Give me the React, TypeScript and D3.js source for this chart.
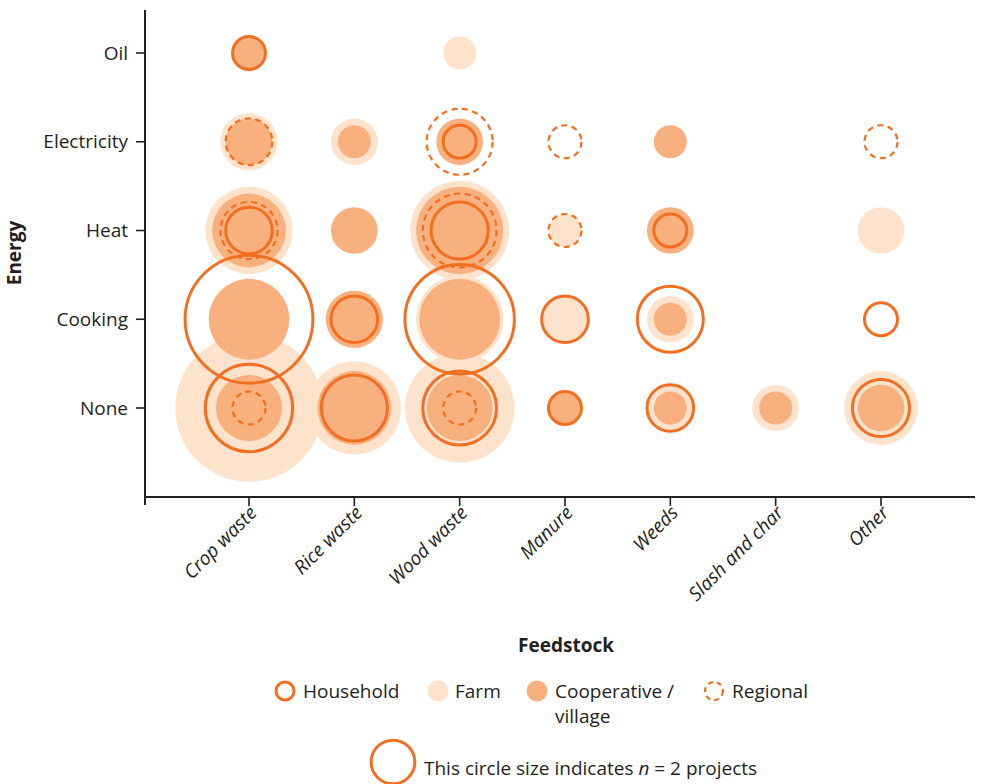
import React from 'react';
import * as d3 from 'd3';

// categories
const feedstocks = ['Crop waste', 'Rice waste', 'Wood waste', 'Manure', 'Weeds', 'Slash and char', 'Other'];
const energies = ['Oil', 'Electricity', 'Heat', 'Cooking', 'None'];

// [feedstock, energy, number of projects]
type Cell = [string, string, number];

const household: Cell[] = [
  ['Crop waste', 'Oil', 1],
  ['Crop waste', 'Heat', 2],
  ['Crop waste', 'Cooking', 15],
  ['Crop waste', 'None', 7],
  ['Rice waste', 'Cooking', 2],
  ['Rice waste', 'None', 4],
  ['Wood waste', 'Electricity', 1],
  ['Wood waste', 'Heat', 3],
  ['Wood waste', 'Cooking', 11],
  ['Wood waste', 'None', 5],
  ['Manure', 'Cooking', 2],
  ['Manure', 'None', 1],
  ['Weeds', 'Heat', 1],
  ['Weeds', 'Cooking', 4],
  ['Weeds', 'None', 2],
  ['Other', 'Cooking', 1],
  ['Other', 'None', 3],
];

const farm: Cell[] = [
  ['Crop waste', 'Electricity', 3],
  ['Crop waste', 'Heat', 7],
  ['Crop waste', 'None', 20],
  ['Rice waste', 'Electricity', 2],
  ['Rice waste', 'None', 8],
  ['Wood waste', 'Oil', 1],
  ['Wood waste', 'Heat', 9],
  ['Wood waste', 'Cooking', 7],
  ['Wood waste', 'None', 11],
  ['Manure', 'Heat', 1],
  ['Manure', 'Cooking', 2],
  ['Weeds', 'Cooking', 2],
  ['Weeds', 'None', 2],
  ['Slash and char', 'None', 2],
  ['Other', 'Heat', 2],
  ['Other', 'None', 5],
];

const cooperative: Cell[] = [
  ['Crop waste', 'Oil', 1],
  ['Crop waste', 'Electricity', 2],
  ['Crop waste', 'Heat', 5],
  ['Crop waste', 'Cooking', 6],
  ['Crop waste', 'None', 4],
  ['Rice waste', 'Electricity', 1],
  ['Rice waste', 'Heat', 2],
  ['Rice waste', 'Cooking', 3],
  ['Rice waste', 'None', 5],
  ['Wood waste', 'Electricity', 2],
  ['Wood waste', 'Heat', 7],
  ['Wood waste', 'Cooking', 6],
  ['Wood waste', 'None', 4],
  ['Manure', 'None', 1],
  ['Weeds', 'Electricity', 1],
  ['Weeds', 'Heat', 2],
  ['Weeds', 'Cooking', 1],
  ['Weeds', 'None', 1],
  ['Slash and char', 'None', 1],
  ['Other', 'None', 2],
];

const regional: Cell[] = [
  ['Crop waste', 'Electricity', 2],
  ['Crop waste', 'Heat', 3],
  ['Crop waste', 'None', 1],
  ['Wood waste', 'Electricity', 4],
  ['Wood waste', 'Heat', 5],
  ['Wood waste', 'None', 1],
  ['Manure', 'Electricity', 1],
  ['Manure', 'Heat', 1],
  ['Other', 'Electricity', 1],
];

const legendN = 2;

const ORANGE = '#f26f21';
const FARM = '#fde2cc';
const COOP = '#f8b07f';
const INK = '#231f20';
const FONT = '"Open Sans", "Noto Sans", sans-serif';
const FS = 19;

const App = () => {
  const width = 983;
  const height = 784;

  const x = d3.scalePoint<string>().domain(feedstocks).range([249, 881]);
  const y = d3.scalePoint<string>().domain(energies).range([53, 408]);
  const r = d3.scaleSqrt().domain([0, 1]).range([0, 16.5]);

  const axisX0 = 145;
  const axisX1 = 975;
  const axisY0 = 497;
  const axisY1 = 10;

  const byRadius = (a: Cell, b: Cell) => b[2] - a[2];

  return (
    <svg
      width={width}
      height={height}
      style={{ position: 'absolute', left: 0, top: 0, background: '#fff' }}
      fontFamily={FONT}
    >
      {/* farm fills */}
      {[...farm].sort(byRadius).map((d, i) => (
        <circle key={'f' + i} cx={x(d[0])} cy={y(d[1])} r={r(d[2])} fill={FARM} />
      ))}
      {/* cooperative fills */}
      {[...cooperative].sort(byRadius).map((d, i) => (
        <circle key={'c' + i} cx={x(d[0])} cy={y(d[1])} r={r(d[2])} fill={COOP} />
      ))}
      {/* regional dashed rings */}
      {regional.map((d, i) => (
        <circle
          key={'r' + i}
          cx={x(d[0])}
          cy={y(d[1])}
          r={r(d[2])}
          fill="none"
          stroke={ORANGE}
          strokeWidth={2.2}
          strokeDasharray="6 4.5"
        />
      ))}
      {/* household rings */}
      {household.map((d, i) => (
        <circle
          key={'h' + i}
          cx={x(d[0])}
          cy={y(d[1])}
          r={r(d[2])}
          fill="none"
          stroke={ORANGE}
          strokeWidth={3}
        />
      ))}

      {/* axes */}
      <line x1={axisX0} x2={axisX0} y1={axisY1} y2={axisY0 + 8} stroke={INK} strokeWidth={2} />
      <line x1={axisX0} x2={axisX1} y1={axisY0} y2={axisY0} stroke={INK} strokeWidth={2} />
      {energies.map((e) => (
        <g key={e} transform={`translate(${axisX0},${y(e)})`}>
          <line x1={-9} x2={0} stroke={INK} strokeWidth={1.6} />
          <text x={-17} dy="0.35em" textAnchor="end" fontSize={FS} fill={INK}>
            {e}
          </text>
        </g>
      ))}
      {feedstocks.map((f) => (
        <g key={f} transform={`translate(${x(f)},${axisY0})`}>
          <line y1={0} y2={9} stroke={INK} strokeWidth={1.6} />
          <text
            transform="translate(9,17) rotate(-45)"
            textAnchor="end"
            fontSize={FS}
            fontStyle="italic"
            fill={INK}
          >
            {f}
          </text>
        </g>
      ))}
      <text x={566} y={652} textAnchor="middle" fontSize={FS} fontWeight="bold" fill={INK}>
        Feedstock
      </text>
      <text
        transform="translate(21,253) rotate(-90)"
        textAnchor="middle"
        fontSize={FS}
        fontWeight="bold"
        fill={INK}
      >
        Energy
      </text>

      {/* legend */}
      <g fontSize={FS} fill={INK}>
        <circle cx={285} cy={691} r={9} fill="none" stroke={ORANGE} strokeWidth={3} />
        <text x={303} y={698}>Household</text>
        <circle cx={438} cy={691} r={10.5} fill={FARM} />
        <text x={455} y={698}>Farm</text>
        <circle cx={537} cy={691} r={10.5} fill={COOP} />
        <text x={555} y={698}>Cooperative /</text>
        <text x={555} y={723}>village</text>
        <circle
          cx={714}
          cy={691}
          r={9}
          fill="none"
          stroke={ORANGE}
          strokeWidth={2.2}
          strokeDasharray="5 4"
        />
        <text x={732} y={698}>Regional</text>
        <circle cx={393} cy={762} r={r(legendN) - 1.5} fill="none" stroke={ORANGE} strokeWidth={3} />
        <text x={424} y={775}>
          This circle size indicates <tspan fontStyle="italic">n</tspan> = {legendN} projects
        </text>
      </g>
    </svg>
  );
};

export default App;
